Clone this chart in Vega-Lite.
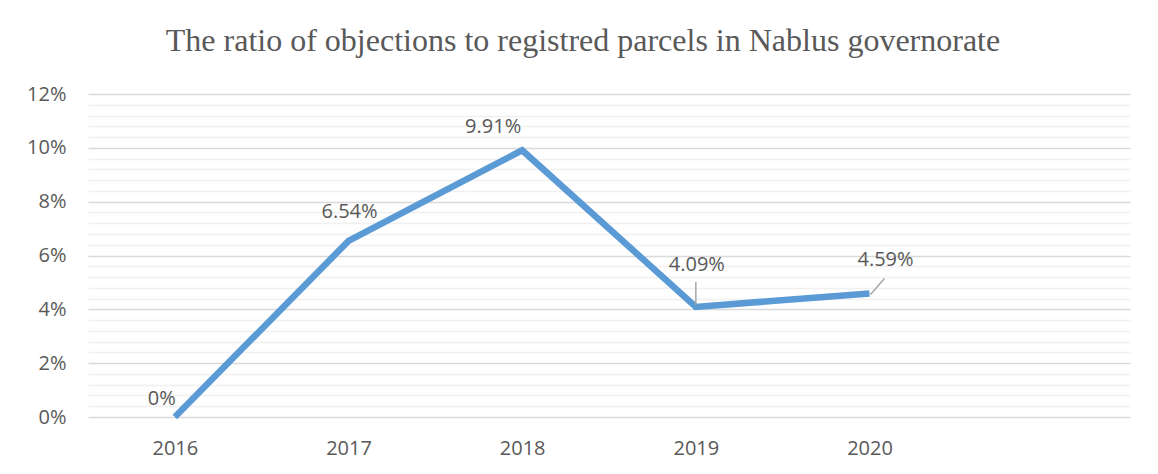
{
  "$schema": "https://vega.github.io/schema/vega-lite/v6.json",
  "autosize": {"type": "none"},
  "width": 1042,
  "height": 323,
  "padding": {"left": 88, "top": 94, "right": 28, "bottom": 57},
  "background": "white",
  "config": {"view": {"stroke": null}},
  "title": {
    "text": "The ratio of objections to registred parcels in Nablus governorate",
    "font": "Liberation Serif",
    "fontSize": 32,
    "fontWeight": "normal",
    "color": "#595959",
    "anchor": "middle",
    "frame": "group",
    "dx": -26,
    "offset": 26
  },
  "data": {
    "values": [
      {"year": 2016, "ratio": 0},
      {"year": 2017, "ratio": 0.0654},
      {"year": 2018, "ratio": 0.0991},
      {"year": 2019, "ratio": 0.0409},
      {"year": 2020, "ratio": 0.0459}
    ]
  },
  "encoding": {
    "x": {
      "field": "year",
      "type": "quantitative",
      "scale": {"domain": [2015.5, 2021.5], "nice": false, "zero": false},
      "axis": {
        "title": null,
        "values": [2016, 2017, 2018, 2019, 2020],
        "format": "d",
        "grid": false,
        "domain": false,
        "ticks": false,
        "labelFont": "Open Sans",
        "labelFontSize": 20,
        "labelColor": "#595959",
        "labelPadding": 21
      }
    },
    "y": {
      "field": "ratio",
      "type": "quantitative",
      "scale": {"domain": [0, 0.12], "nice": false},
      "axis": {
        "title": null,
        "values": [0, 0.004, 0.008, 0.012, 0.016, 0.02, 0.024, 0.028, 0.032, 0.036, 0.04, 0.044, 0.048, 0.052, 0.056, 0.06, 0.064, 0.068, 0.072, 0.076, 0.08, 0.084, 0.088, 0.092, 0.096, 0.1, 0.104, 0.108, 0.112, 0.116, 0.12],
        "format": ".0%",
        "labelExpr": "abs(datum.value*50 - round(datum.value*50)) < 0.001 ? datum.label : ''",
        "grid": true,
        "gridColor": {"condition": {"test": "abs(datum.value*50 - round(datum.value*50)) < 0.001", "value": "#D9D9D9"}, "value": "#F0F0F0"},
        "gridWidth": 1.5,
        "domain": false,
        "ticks": false,
        "labelFont": "Open Sans",
        "labelFontSize": 20,
        "labelColor": "#595959",
        "labelPadding": 22
      }
    }
  },
  "layer": [
    {
      "mark": {"type": "line", "color": "#5B9BD5", "strokeWidth": 6.5, "strokeCap": "butt", "strokeJoin": "miter"}
    },
    {
      "transform": [{"filter": "datum.year == 2019"}],
      "mark": {"type": "rule", "color": "#A6A6A6", "strokeWidth": 1.5, "yOffset": -2, "y2Offset": -25},
      "encoding": {"x2": {"field": "year"}, "y2": {"field": "ratio"}}
    },
    {
      "transform": [{"filter": "datum.year == 2020"}],
      "mark": {"type": "rule", "color": "#A6A6A6", "strokeWidth": 1.5, "xOffset": 1, "yOffset": 1, "x2Offset": 15, "y2Offset": -15},
      "encoding": {"x2": {"field": "year"}, "y2": {"field": "ratio"}}
    },
    {
      "transform": [{"filter": "datum.year == 2016"}],
      "mark": {"type": "text", "font": "Open Sans", "fontSize": 20, "color": "#595959", "baseline": "alphabetic", "dx": -13, "dy": -12},
      "encoding": {"text": {"field": "ratio", "format": ".2~%"}}
    },
    {
      "transform": [{"filter": "datum.year == 2017"}],
      "mark": {"type": "text", "font": "Open Sans", "fontSize": 20, "color": "#595959", "baseline": "alphabetic", "dx": 1, "dy": -23},
      "encoding": {"text": {"field": "ratio", "format": ".2~%"}}
    },
    {
      "transform": [{"filter": "datum.year == 2018"}],
      "mark": {"type": "text", "font": "Open Sans", "fontSize": 20, "color": "#595959", "baseline": "alphabetic", "dx": -29, "dy": -17},
      "encoding": {"text": {"field": "ratio", "format": ".2~%"}}
    },
    {
      "transform": [{"filter": "datum.year == 2019"}],
      "mark": {"type": "text", "font": "Open Sans", "fontSize": 20, "color": "#595959", "baseline": "alphabetic", "dx": 1, "dy": -36},
      "encoding": {"text": {"field": "ratio", "format": ".2~%"}}
    },
    {
      "transform": [{"filter": "datum.year == 2020"}],
      "mark": {"type": "text", "font": "Open Sans", "fontSize": 20, "color": "#595959", "baseline": "alphabetic", "dx": 16, "dy": -27},
      "encoding": {"text": {"field": "ratio", "format": ".2~%"}}
    }
  ]
}
